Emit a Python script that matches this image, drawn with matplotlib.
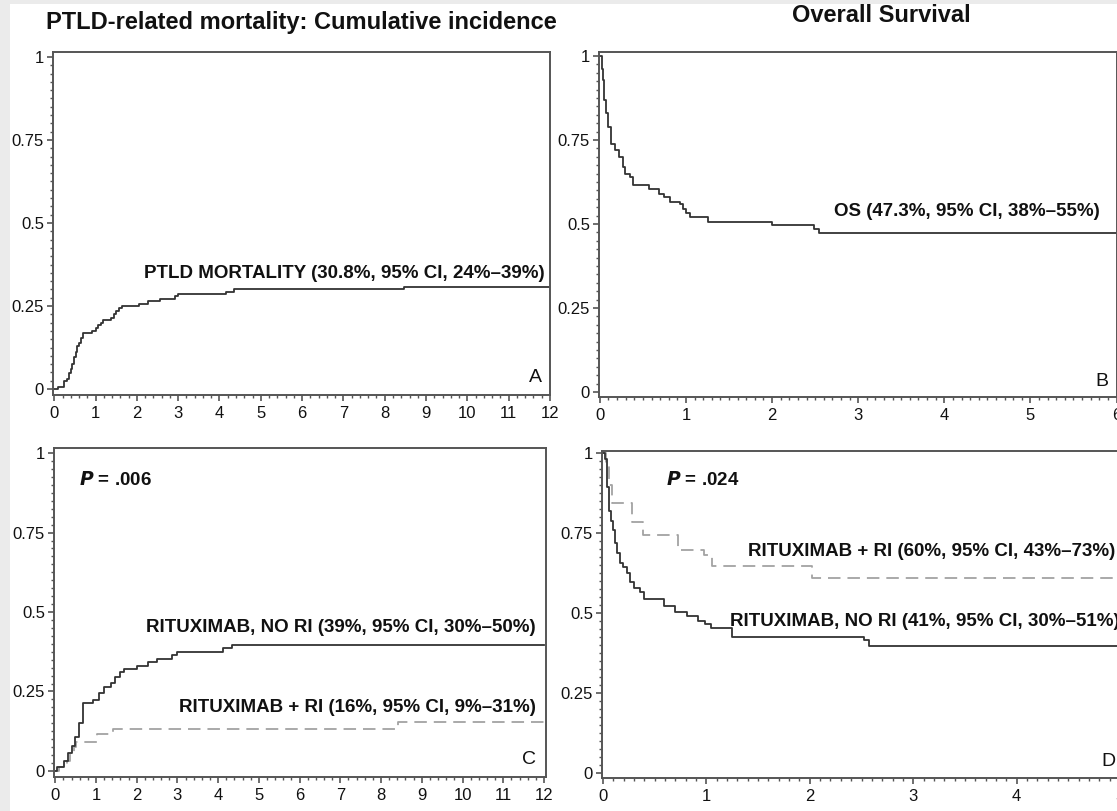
import matplotlib
matplotlib.use("Agg")
import matplotlib.pyplot as plt
from matplotlib.ticker import FixedLocator, FixedFormatter, MultipleLocator
from matplotlib.patches import Rectangle

plt.rcParams['font.family'] = ['Liberation Sans', 'DejaVu Sans']
plt.rcParams['lines.scale_dashes'] = False

W, H = 1117, 811

# ---------------- data ----------------
# Panel A: PTLD-related mortality cumulative incidence
a_time = [0, 0.1, 0.23, 0.31, 0.36, 0.40, 0.44, 0.48, 0.52, 0.56, 0.60, 0.64, 0.70,
          0.92, 1.0, 1.06, 1.12, 1.19, 1.38, 1.44, 1.50, 1.56, 1.64, 2.04, 2.26,
          2.55, 2.93, 3.0, 4.15, 4.36, 8.47, 12.0]
a_value = [0, 0.007, 0.024, 0.030, 0.048, 0.060, 0.075, 0.095, 0.110, 0.130, 0.140, 0.155, 0.169,
           0.175, 0.183, 0.192, 0.200, 0.208, 0.215, 0.225, 0.235, 0.243, 0.250, 0.256, 0.264,
           0.271, 0.279, 0.286, 0.292, 0.300, 0.308, 0.308]

# Panel B: overall survival
b_time = [0, 0.02, 0.03, 0.04, 0.047, 0.07, 0.097, 0.124, 0.174, 0.225, 0.27, 0.29, 0.35,
          0.38, 0.57, 0.69, 0.74, 0.81, 0.93, 0.97, 1.0, 1.05, 1.26, 2.0, 2.49, 2.55, 6.0]
b_value = [1.0, 0.988, 0.96, 0.928, 0.869, 0.83, 0.789, 0.739, 0.719, 0.699, 0.67, 0.65, 0.64,
           0.615, 0.605, 0.59, 0.58, 0.565, 0.56, 0.545, 0.532, 0.522, 0.505, 0.497, 0.485, 0.473, 0.473]

# Panel C: PTLD mortality by group
c_norl_time = [0, 0.05, 0.21, 0.32, 0.40, 0.49, 0.58, 0.69, 0.93, 1.07, 1.2, 1.36, 1.47,
               1.6, 1.7, 2.02, 2.28, 2.5, 2.86, 3.0, 4.12, 4.35, 12.0]
c_norl_value = [0, 0.013, 0.032, 0.057, 0.080, 0.108, 0.151, 0.214, 0.223, 0.245, 0.264, 0.276, 0.296,
                0.312, 0.320, 0.331, 0.342, 0.353, 0.365, 0.375, 0.386, 0.396, 0.396]
c_ri_time = [0, 0.10, 0.30, 0.37, 0.45, 0.52, 1.02, 1.41, 8.42, 12.0]
c_ri_value = [0, 0.013, 0.032, 0.057, 0.075, 0.092, 0.115, 0.131, 0.155, 0.155]

# Panel D: overall survival by group
d_norl_time = [0, 0.02, 0.04, 0.056, 0.074, 0.10, 0.115, 0.136, 0.16, 0.194, 0.23, 0.26, 0.30,
               0.36, 0.40, 0.59, 0.70, 0.81, 0.92, 0.99, 1.04, 1.25, 2.52, 2.57, 5.0]
d_norl_value = [1.0, 0.98, 0.895, 0.82, 0.786, 0.76, 0.718, 0.687, 0.656, 0.645, 0.624, 0.598, 0.577,
                0.564, 0.543, 0.522, 0.504, 0.489, 0.476, 0.466, 0.452, 0.426, 0.416, 0.395, 0.395]
d_ri_time = [0, 0.03, 0.06, 0.09, 0.28, 0.385, 0.725, 0.98, 1.05, 2.02, 5.0]
d_ri_value = [1.0, 0.96, 0.90, 0.845, 0.785, 0.744, 0.697, 0.68, 0.648, 0.61, 0.61]

y_ticks = [0, 0.25, 0.5, 0.75, 1]
y_labels = ["0", "0.25", "0.5", "0.75", "1"]
xa_ticks = list(range(0, 13))
xb_ticks = list(range(0, 7))
xd_ticks = list(range(0, 6))

title_a = "PTLD-related mortality: Cumulative incidence"
title_b = "Overall Survival"
label_a = "PTLD MORTALITY (30.8%, 95% CI, 24%\u201339%)"
label_b = "OS (47.3%, 95% CI, 38%\u201355%)"
label_c1 = "RITUXIMAB, NO RI (39%, 95% CI, 30%\u201350%)"
label_c2 = "RITUXIMAB + RI (16%, 95% CI, 9%\u201331%)"
label_d1 = "RITUXIMAB + RI (60%, 95% CI, 43%\u201373%)"
label_d2 = "RITUXIMAB, NO RI (41%, 95% CI, 30%\u201351%)"
p_c = ".006"
p_d = ".024"

# ---------------- figure ----------------
fig = plt.figure(figsize=(W / 100, H / 100), dpi=100)
fig.patch.set_facecolor("white")
fig.patches.append(Rectangle((0, 0), 10 / W, 1, transform=fig.transFigure,
                             facecolor="#ebebeb", edgecolor="none", zorder=-10))
fig.patches.append(Rectangle((0, 1 - 4 / H), 1, 4 / H, transform=fig.transFigure,
                             facecolor="#ebebeb", edgecolor="none", zorder=-10))


def px_axes(l, r, t, b):
    return fig.add_axes([l / W, 1 - b / H, (r - l) / W, (b - t) / H])


def fx(x):
    return x / W


def fy(y):
    return 1 - y / H


SOLID = "#333333"
DASH = "#a3a3a3"
SPINE = "#555555"


def style(ax, xt, xminor, xlim, ylim):
    ax.set_xlim(*xlim)
    ax.set_ylim(*ylim)
    ax.xaxis.set_major_locator(FixedLocator(xt))
    ax.xaxis.set_major_formatter(FixedFormatter([str(v) for v in xt]))
    ax.xaxis.set_minor_locator(MultipleLocator(xminor))
    ax.yaxis.set_major_locator(FixedLocator(y_ticks))
    ax.yaxis.set_major_formatter(FixedFormatter(y_labels))
    ax.yaxis.set_minor_locator(MultipleLocator(0.025))
    for s in ax.spines.values():
        s.set_color(SPINE)
        s.set_linewidth(1.4)
    ax.tick_params(which="major", direction="out", length=4, width=1.2, color=SPINE,
                   labelsize=12, labelcolor="#111111", pad=2.5)
    ax.tick_params(which="minor", direction="out", length=2, width=1.0, color=SPINE)
    ax.tick_params(axis="x", which="major", pad=4)


# Panel A
axA = px_axes(53, 550, 52, 395)
axA.step(a_time, a_value, where="post", color=SOLID, lw=1.3)
style(axA, xa_ticks, 0.2, (-0.03, 12.0), (-0.018, 1.015))

# Panel B
axB = px_axes(599, 1116.5, 52, 397)
axB.step(b_time, b_value, where="post", color=SOLID, lw=1.3)
style(axB, xb_ticks, 0.1, (-0.01, 6.0), (-0.015, 1.012))

# Panel C
axC = px_axes(54, 546, 448, 777)
axC.step(c_ri_time, c_ri_value, where="post", color=DASH, lw=1.3, dashes=(9, 5))
axC.step(c_norl_time, c_norl_value, where="post", color=SOLID, lw=1.3)
style(axC, xa_ticks, 0.2, (-0.03, 12.05), (-0.019, 1.016))

# Panel D
axD = px_axes(602, 1120, 451, 778)
axD.step(d_ri_time, d_ri_value, where="post", color=DASH, lw=1.3, dashes=(9, 5))
axD.step(d_norl_time, d_norl_value, where="post", color=SOLID, lw=1.3)
style(axD, xd_ticks, 0.1, (-0.01, 5.0), (-0.016, 1.006))
axD.spines["right"].set_visible(False)

# ---------------- texts ----------------
bold = dict(fontsize=13.5, fontweight="bold", color="#111111")
fig.text(fx(301), fy(23), title_a, ha="center", va="center", fontsize=17, fontweight="bold", color="#111111")
fig.text(fx(881), fy(16), title_b, ha="center", va="center", fontsize=17, fontweight="bold", color="#111111")

fig.text(fx(545), fy(273), label_a, ha="right", va="center", **bold)
fig.text(fx(1100), fy(212), label_b, ha="right", va="center", **bold)
fig.text(fx(536), fy(628), label_c1, ha="right", va="center", **bold)
fig.text(fx(536), fy(708), label_c2, ha="right", va="center", **bold)
fig.text(fx(748), fy(552), label_d1, ha="left", va="center", **bold)
fig.text(fx(730), fy(622), label_d2, ha="left", va="center", **bold)

fig.text(fx(79), fy(480), r"$\bfit{P}$" + " = " + p_c, ha="left", va="center", **bold)
fig.text(fx(666), fy(480), r"$\bfit{P}$" + " = " + p_d, ha="left", va="center", **bold)

letter = dict(fontsize=14, color="#111111", ha="center", va="center")
fig.text(fx(535), fy(378), "A", **letter)
fig.text(fx(1102), fy(381), "B", **letter)
fig.text(fx(529), fy(760), "C", **letter)
fig.text(fx(1108), fy(762), "D", **letter)

fig.savefig("out.png", dpi=100)
